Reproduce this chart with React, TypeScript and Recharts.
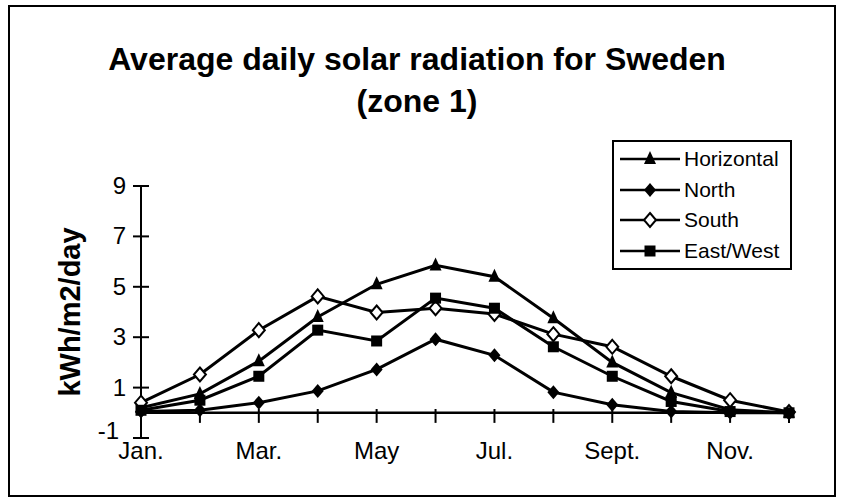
import { LineChart, Line, XAxis, YAxis, ReferenceLine } from 'recharts';

const months = ['Jan.', 'Feb.', 'Mar.', 'Apr.', 'May', 'Jun.', 'Jul.', 'Aug.', 'Sept.', 'Oct.', 'Nov.', 'Dec.'];
const horizontal = [0.2, 0.75, 2.05, 3.8, 5.1, 5.85, 5.4, 3.75, 2.0, 0.8, 0.12, 0];
const north = [0.05, 0.1, 0.4, 0.87, 1.72, 2.92, 2.28, 0.82, 0.32, 0.05, 0, 0];
const south = [0.4, 1.52, 3.28, 4.62, 3.98, 4.15, 3.92, 3.12, 2.62, 1.45, 0.5, 0.03];
const eastWest = [0.1, 0.5, 1.45, 3.28, 2.85, 4.55, 4.15, 2.62, 1.45, 0.45, 0.05, 0];
const yTicks = [-1, 1, 3, 5, 7, 9];

const data = months.map((m, i) => ({
    month: m,
    horizontal: horizontal[i],
    north: north[i],
    south: south[i],
    eastWest: eastWest[i]
}));

const FONT = '"Liberation Sans", Arial, Helvetica, sans-serif';

type Shape = 'triangle' | 'diamond' | 'openDiamond' | 'square';

function Marker({ cx, cy, shape }: { cx: number; cy: number; shape: Shape }) {
    if (shape === 'triangle') {
        return <polygon points={`${cx},${cy - 8} ${cx + 6},${cy + 5} ${cx - 6},${cy + 5}`} fill="#000" />;
    }
    if (shape === 'diamond') {
        return <polygon points={`${cx},${cy - 7} ${cx + 6},${cy} ${cx},${cy + 7} ${cx - 6},${cy}`} fill="#000" />;
    }
    if (shape === 'openDiamond') {
        return (
            <polygon
                points={`${cx},${cy - 7} ${cx + 6},${cy} ${cx},${cy + 7} ${cx - 6},${cy}`}
                fill="#fff"
                stroke="#000"
                strokeWidth={2}
            />
        );
    }
    return <rect x={cx - 5.5} y={cy - 5.5} width={11} height={11} fill="#000" />;
}

const series: { key: string; name: string; shape: Shape }[] = [
    { key: 'horizontal', name: 'Horizontal', shape: 'triangle' },
    { key: 'north', name: 'North', shape: 'diamond' },
    { key: 'south', name: 'South', shape: 'openDiamond' },
    { key: 'eastWest', name: 'East/West', shape: 'square' }
];

// y ticks cross the axis line; the -1 label sits up and left of "Jan."
const YTick = ({ x, y, payload }: any) => {
    const low = payload.value === -1;
    return (
        <g>
            <line x1={x - 8} x2={x + 8} y1={y} y2={y} stroke="#000" strokeWidth={2} />
            <text
                x={low ? x - 22 : x - 15}
                y={y}
                dy={low ? 1 : 8}
                textAnchor="end"
                fontSize={24}
                fontFamily={FONT}
                fill="#000"
            >
                {payload.value}
            </text>
        </g>
    );
};

// legend drawn as a plain box so it does not take room from the plot
const LegendBox = () => (
    <div
        style={{
            position: 'absolute',
            left: 612,
            top: 140,
            border: '2px solid #000',
            background: '#fff',
            width: 176,
            padding: '2px 0',
            fontFamily: FONT,
            fontSize: 21
        }}
    >
        {series.map((s) => (
            <div key={s.key} style={{ display: 'flex', alignItems: 'center', height: 30.5 }}>
                <svg width={66} height={20} style={{ marginLeft: 4 }}>
                    <line x1={2} x2={62} y1={10} y2={10} stroke="#000" strokeWidth={2.5} />
                    <Marker cx={32} cy={10} shape={s.shape} />
                </svg>
                <span>{s.name}</span>
            </div>
        ))}
    </div>
);

export default function App() {
    return (
        <div style={{ position: 'absolute', left: 0, top: 0, width: 846, height: 500, background: '#fff' }}>
            <div
                style={{
                    position: 'absolute',
                    left: 8,
                    top: 5,
                    width: 824,
                    height: 488,
                    border: '2px solid #000'
                }}
            />
            <div
                style={{
                    position: 'absolute',
                    left: 0,
                    width: 834,
                    top: 38,
                    textAlign: 'center',
                    fontFamily: FONT,
                    fontWeight: 'bold',
                    fontSize: 32,
                    lineHeight: '42px'
                }}
            >
                Average daily solar radiation for Sweden
                <br />
                (zone 1)
            </div>
            <div
                style={{
                    position: 'absolute',
                    left: 70,
                    top: 312,
                    transform: 'translate(-50%, -50%) rotate(-90deg)',
                    fontFamily: FONT,
                    fontWeight: 'bold',
                    fontSize: 29,
                    whiteSpace: 'nowrap'
                }}
            >
                kWh/m2/day
            </div>
            <div style={{ position: 'absolute', left: 0, top: 0 }}>
                <LineChart width={846} height={500} data={data} margin={{ top: 186, right: 57, left: 81, bottom: 32 }}>
                    <XAxis
                        dataKey="month"
                        interval={1}
                        axisLine={false}
                        tickLine={false}
                        tickSize={0}
                        tickMargin={4}
                        tick={{ fontSize: 24, fill: '#000', fontFamily: FONT }}
                    />
                    <YAxis
                        width={60}
                        domain={[-1, 9]}
                        ticks={yTicks}
                        tickSize={0}
                        tickMargin={0}
                        tickLine={false}
                        axisLine={{ stroke: '#000', strokeWidth: 2 }}
                        tick={<YTick />}
                    />
                    <ReferenceLine y={0} stroke="#000" strokeWidth={2.5} />
                    {months.map((m) => (
                        <ReferenceLine
                            key={m}
                            segment={[
                                { x: m, y: 0.15 },
                                { x: m, y: -0.4 }
                            ]}
                            stroke="#000"
                            strokeWidth={2}
                        />
                    ))}
                    {series.map((s) => (
                        <Line
                            key={s.key}
                            type="linear"
                            dataKey={s.key}
                            name={s.name}
                            stroke="#000"
                            strokeWidth={3}
                            isAnimationActive={false}
                            dot={(p: any) => <Marker key={`${s.key}-${p.index}`} cx={p.cx} cy={p.cy} shape={s.shape} />}
                            activeDot={false}
                        />
                    ))}
                </LineChart>
            </div>
            <LegendBox />
        </div>
    );
}
